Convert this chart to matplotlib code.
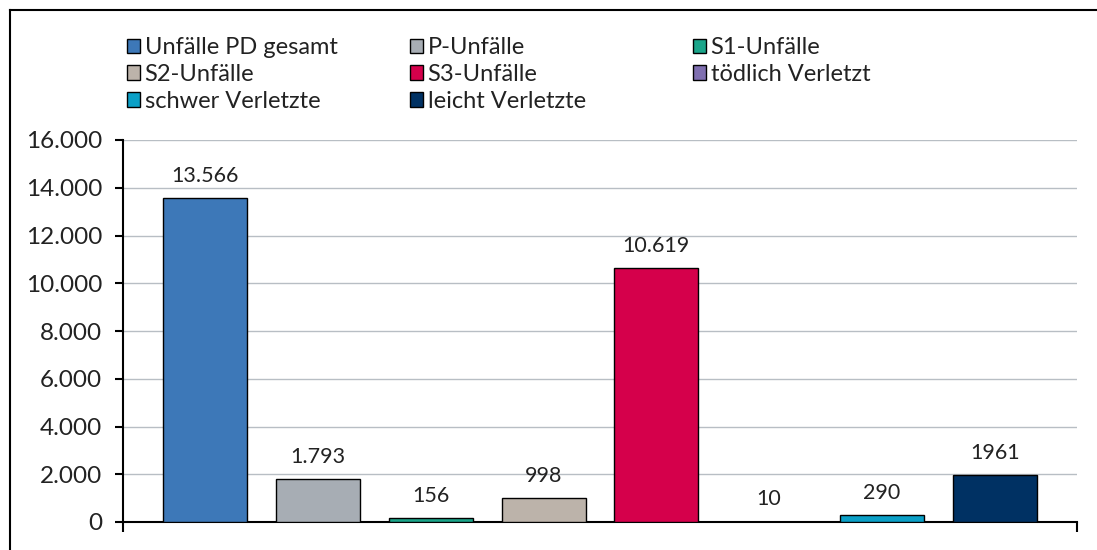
import matplotlib
matplotlib.use("Agg")
import matplotlib.pyplot as plt
from matplotlib.lines import Line2D
from matplotlib.patches import Patch

categories = ["Unfälle PD gesamt", "P-Unfälle", "S1-Unfälle", "S2-Unfälle",
              "S3-Unfälle", "tödlich Verletzt", "schwer Verletzte", "leicht Verletzte"]
values = [13566, 1793, 156, 998, 10619, 10, 290, 1961]
value_labels = ["13.566", "1.793", "156", "998", "10.619", "10", "290", "1961"]
colors = ["#3D78B8", "#A7ADB4", "#1BA58A", "#BCB3AA", "#D5004B", "#7F6FB0", "#0BA0C7", "#003163"]
yticks = [0, 2000, 4000, 6000, 8000, 10000, 12000, 14000, 16000]
ytick_labels = ["0", "2.000", "4.000", "6.000", "8.000", "10.000", "12.000", "14.000", "16.000"]

plt.rcParams['font.family'] = ['Lato', 'DejaVu Sans']

W, H = 1097, 550
fig = plt.figure(figsize=(W / 100, H / 100), dpi=100)
ax = fig.add_axes([123 / W, 1 - 522 / H, (1077 - 123) / W, (522 - 140) / H])

x = list(range(len(values)))
bars = ax.bar(x, values, width=0.745, color=colors, edgecolor="black", linewidth=1.0, zorder=3)

for xi, v, lab in zip(x, values, value_labels):
    ax.annotate(lab, (xi, v), xytext=(0, 9), textcoords="offset points",
                ha="center", va="bottom", fontsize=15.5, color="#222222")

ax.set_xlim(-0.73, 7.73)
ax.set_ylim(0, 16000)
ax.set_yticks(yticks)
ax.set_yticklabels(ytick_labels, fontsize=17.5, color="#222222")
ax.set_xticks([-0.73, 7.73])
ax.set_xticklabels([])
ax.tick_params(axis="x", direction="out", length=7, width=1.5, color="black")
ax.tick_params(axis="y", direction="out", length=6, width=1.5, color="black", pad=9)
ax.grid(axis="y", color="#B8BEC4", linewidth=1.0, zorder=0)
ax.set_axisbelow(True)
for s in ["top", "right"]:
    ax.spines[s].set_visible(False)
ax.spines["left"].set_linewidth(1.5)
ax.spines["bottom"].set_linewidth(1.5)

# legend: 3 columns (row-wise order), placed as separate columns
handles = [Patch(facecolor=c, edgecolor="black", linewidth=1.0) for c in colors]
col_groups = [[0, 3, 6], [1, 4, 7], [2, 5]]
col_x = [127, 410, 693]
for grp, cx in zip(col_groups, col_x):
    lg = fig.legend([handles[i] for i in grp], [categories[i] for i in grp],
                    ncol=1, loc="upper left", bbox_to_anchor=(cx / W, 1 - 37 / H),
                    frameon=False, fontsize=17, handlelength=0.55, handleheight=0.55,
                    handletextpad=0.2, labelspacing=0.25,
                    borderaxespad=0, borderpad=0)
    for t in lg.get_texts():
        t.set_color("#222222")

# outer frame (top and left lines visible)
fig.add_artist(Line2D([9.5 / W, 9.5 / W], [0, 1 - 10 / H], color="black", linewidth=1.5,
                      transform=fig.transFigure))
fig.add_artist(Line2D([9.5 / W, 1], [1 - 10 / H, 1 - 10 / H], color="black", linewidth=1.5,
                      transform=fig.transFigure))

fig.savefig("out.png", dpi=100, facecolor="white")
